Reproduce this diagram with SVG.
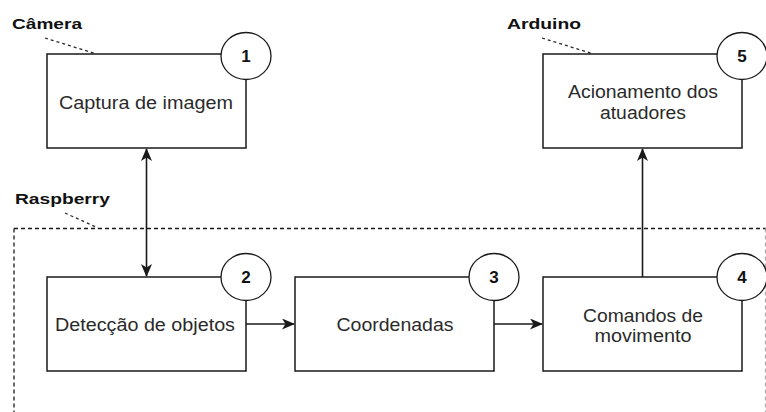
<svg xmlns="http://www.w3.org/2000/svg" width="766" height="412" viewBox="0 0 766 412">
  <style>
    .box { fill: #ffffff; stroke: #1a1a1a; stroke-width: 1.5; }
    .badge { fill: #ffffff; stroke: #1a1a1a; stroke-width: 1.3; }
    .num { font-family: "Liberation Sans", Arial, sans-serif; font-weight: bold; font-size: 17px; fill: #111111; text-anchor: middle; }
    .label { font-family: "Liberation Sans", Arial, sans-serif; font-size: 17.5px; fill: #2a2a2a; text-anchor: middle; }
    .group-title { font-family: "Liberation Sans", Arial, sans-serif; font-weight: bold; font-size: 15.5px; fill: #111111; }
    .leader { fill: none; stroke: #2a2a2a; stroke-width: 1.3; stroke-dasharray: 3 3; }
    .frame { fill: none; stroke: #1a1a1a; stroke-width: 1.3; stroke-dasharray: 4 3; }
    .edge { fill: none; stroke: #1a1a1a; stroke-width: 1.6; }
  </style>
  <defs>
    <marker id="arrow" viewBox="0 0 13 11" refX="12" refY="5.5" markerWidth="13" markerHeight="11" markerUnits="userSpaceOnUse" orient="auto-start-reverse">
      <path d="M0,0 L13,5.5 L0,11 L3.5,5.5 Z" fill="#1a1a1a"/>
    </marker>
  </defs>

  <rect width="766" height="412" fill="#ffffff"/>

  <!-- Raspberry group frame -->
  <g id="raspberry-group">
    <path class="frame" d="M14,228.5 H765.5 M14,228.5 V412"/>
    <path class="frame" d="M765.5,228.5 V412" stroke-opacity="0.35"/>
    <path class="leader" d="M65,213 L98,228"/>
    <text class="group-title" x="15" y="204" textLength="95" lengthAdjust="spacingAndGlyphs">Raspberry</text>
  </g>

  <!-- Group labels for the external devices -->
  <g id="camera-label">
    <text class="group-title" x="12" y="29" textLength="70" lengthAdjust="spacingAndGlyphs">Câmera</text>
    <path class="leader" d="M45,38 L95,53.5"/>
  </g>
  <g id="arduino-label">
    <text class="group-title" x="507" y="29" textLength="74" lengthAdjust="spacingAndGlyphs">Arduino</text>
    <path class="leader" d="M542,38 L592,53.5"/>
  </g>

  <!-- Connectors -->
  <g id="connectors">
    <line class="edge" x1="146.5" y1="149" x2="146.5" y2="276" marker-start="url(#arrow)" marker-end="url(#arrow)"/>
    <line class="edge" x1="246" y1="324" x2="294" y2="324" marker-end="url(#arrow)"/>
    <line class="edge" x1="494" y1="324" x2="542" y2="324" marker-end="url(#arrow)"/>
    <line class="edge" x1="642.5" y1="277" x2="642.5" y2="149" marker-end="url(#arrow)"/>
  </g>

  <!-- Node 1: image capture -->
  <g id="node-1">
    <rect class="box" x="47" y="54" width="199" height="94"/>
    <text class="label" x="146" y="109" textLength="174" lengthAdjust="spacingAndGlyphs">Captura de imagem</text>
    <ellipse class="badge" cx="246" cy="56" rx="25" ry="23.5"/>
    <text class="num" x="246" y="62">1</text>
  </g>

  <!-- Node 2: object detection -->
  <g id="node-2">
    <rect class="box" x="47" y="277" width="199" height="94"/>
    <text class="label" x="145" y="331" textLength="180" lengthAdjust="spacingAndGlyphs">Detecção de objetos</text>
    <ellipse class="badge" cx="246" cy="277" rx="25" ry="23.5"/>
    <text class="num" x="246" y="283">2</text>
  </g>

  <!-- Node 3: coordinates -->
  <g id="node-3">
    <rect class="box" x="295" y="277" width="199" height="94"/>
    <text class="label" x="395" y="331" textLength="117" lengthAdjust="spacingAndGlyphs">Coordenadas</text>
    <ellipse class="badge" cx="494" cy="277" rx="25" ry="23.5"/>
    <text class="num" x="494" y="283">3</text>
  </g>

  <!-- Node 4: movement commands -->
  <g id="node-4">
    <rect class="box" x="543" y="277" width="199" height="94"/>
    <text class="label" x="643" y="322" textLength="120" lengthAdjust="spacingAndGlyphs">Comandos de</text>
    <text class="label" x="643" y="342" textLength="97" lengthAdjust="spacingAndGlyphs">movimento</text>
    <ellipse class="badge" cx="742" cy="277" rx="25" ry="23.5"/>
    <text class="num" x="742" y="283">4</text>
  </g>

  <!-- Node 5: actuator drive -->
  <g id="node-5">
    <rect class="box" x="543" y="54" width="199" height="94"/>
    <text class="label" x="643" y="98" textLength="150" lengthAdjust="spacingAndGlyphs">Acionamento dos</text>
    <text class="label" x="643" y="119" textLength="86" lengthAdjust="spacingAndGlyphs">atuadores</text>
    <ellipse class="badge" cx="742" cy="56" rx="25" ry="23.5"/>
    <text class="num" x="742" y="62">5</text>
  </g>
</svg>
